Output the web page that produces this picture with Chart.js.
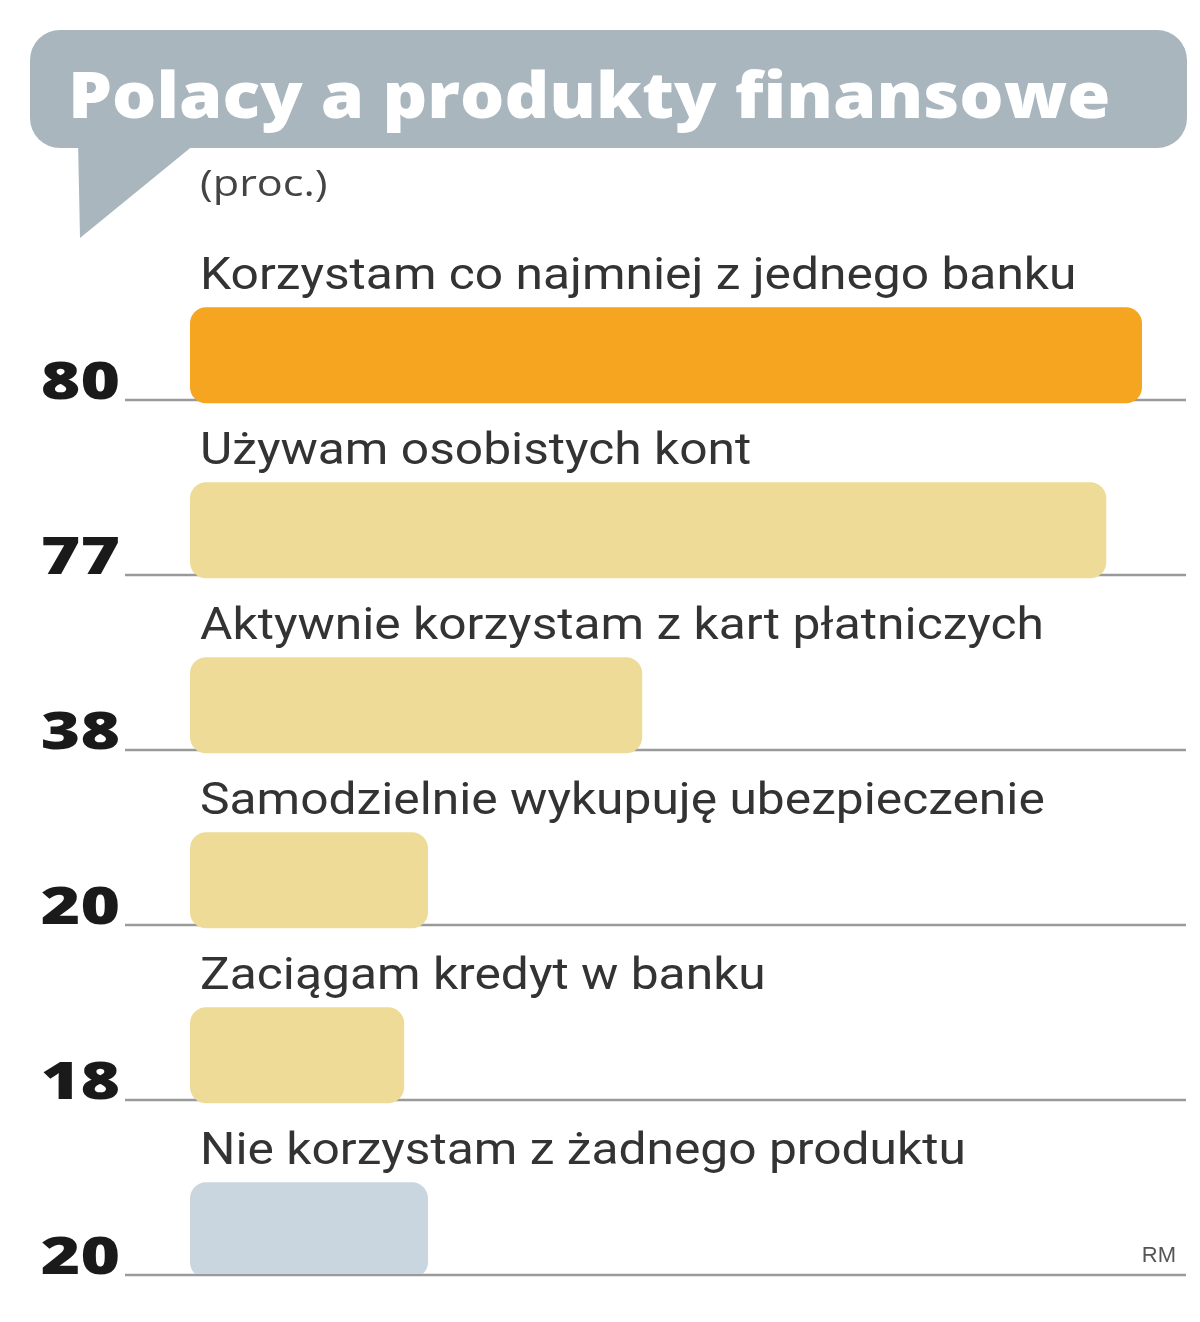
<!DOCTYPE html>
<html><head><meta charset="utf-8">
<script src="https://cdn.jsdelivr.net/npm/chart.js@4"></script>
<style>html,body{margin:0;padding:0;background:#fff;width:1200px;height:1322px;overflow:hidden}</style>
</head><body>
<canvas id="c" width="1200" height="1322"></canvas>
<script>
const title = "Polacy a produkty finansowe";
const unit = "(proc.)";
const categories = ["Korzystam co najmniej z jednego banku","Używam osobistych kont","Aktywnie korzystam z kart płatniczych","Samodzielnie wykupuję ubezpieczenie","Zaciągam kredyt w banku","Nie korzystam z żadnego produktu"];
const values = [80, 77, 38, 20, 18, 20];
const barColors = ["#F5A51F","#EEDB98","#EEDB98","#EEDB98","#EEDB98","#C9D6DF"];
const source = "RM";

function stretched(c, text, x, y, sx, align){
  c.save(); c.translate(x,y); c.scale(sx,1); c.textAlign=align||"left"; c.fillText(text,0,0); c.restore();
}

const deco = {
  id:'deco',
  beforeDatasetsDraw(ch){
    const c=ch.ctx, y=ch.scales.y;
    c.save();
    c.fillStyle="#A9B6BE";
    c.beginPath(); c.roundRect(30,30,1157,118,30); c.fill();
    c.beginPath(); c.moveTo(78,140); c.lineTo(200,140); c.lineTo(80,238); c.closePath(); c.fill();
    c.fillStyle="#fff"; c.font="800 64px 'Open Sans', sans-serif"; c.textBaseline="alphabetic";
    stretched(c,title,68,118,1.09);
    c.fillStyle="#444"; c.font="36px 'Open Sans', sans-serif"; stretched(c,unit,200,196,1.2);
    categories.forEach((cat,i)=>{
      const bottom=y.getPixelForValue(i)+87.5;
      c.strokeStyle="#9a9a9a"; c.lineWidth=2.5;
      c.beginPath(); c.moveTo(125,bottom+1); c.lineTo(1186,bottom+1); c.stroke();
      c.fillStyle="#333"; c.font="44px 'Roboto', sans-serif";
      stretched(c,cat,200,bottom-110,1.13);
      c.fillStyle="#1a1a1a"; c.font="800 52px 'Open Sans', sans-serif";
      stretched(c,String(values[i]),120,bottom,1.3,"right");
    });
    c.fillStyle="#555"; c.font="22px 'Liberation Sans', sans-serif";
    stretched(c,source,1176,1262,1,"right");
    c.restore();
  }
};

new Chart(document.getElementById('c'),{
  type:'bar',
  data:{labels:categories,datasets:[
    {data:categories.map(()=>0),backgroundColor:'rgba(0,0,0,0)'},
    {data:values,backgroundColor:barColors,borderRadius:16,borderSkipped:false}
  ]},
  options:{
    indexAxis:'y',responsive:false,animation:false,devicePixelRatio:1,
    categoryPercentage:1,barPercentage:1.097,
    layout:{padding:{left:190,right:58,top:224,bottom:48}},
    plugins:{legend:{display:false},tooltip:{enabled:false}},
    scales:{x:{min:0,max:80,display:false},y:{display:false}}
  },
  plugins:[deco]
});
</script>
</body></html>
